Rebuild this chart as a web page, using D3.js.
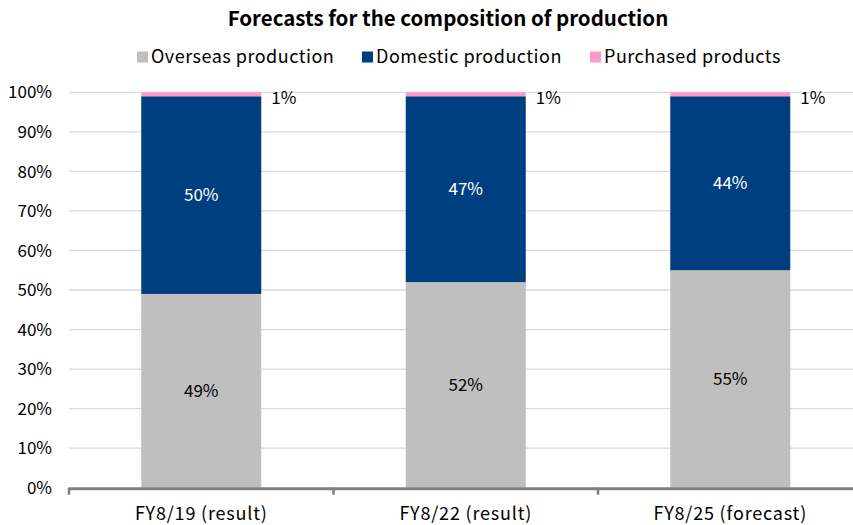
<!DOCTYPE html>
<html><head><meta charset="utf-8">
<script src="https://cdn.jsdelivr.net/npm/d3@7"></script>
<style>
body{margin:0;background:#fff;}
svg{display:block;font-family:"Noto Sans CJK JP","Noto Sans",sans-serif;}
</style></head>
<body><svg id="c" width="853" height="525"></svg>
<script>
const categories = ["FY8/19 (result)", "FY8/22 (result)", "FY8/25 (forecast)"];
const seriesNames = ["Overseas production", "Domestic production", "Purchased products"];
const overseas = [49, 52, 55];
const domestic = [50, 47, 44];
const purchased = [1, 1, 1];
const yTicks = [0,10,20,30,40,50,60,70,80,90,100];
const colors = ["#bfbfbf", "#003f7f", "#ff99cc"];
const labelColors = ["#000", "#fff", "#000"];

const svg = d3.select("#c");
const plotLeft = 69, plotW = 264.5*3, plotTop = 92.3, plotBottom = 487.7;
const x = d3.scaleBand().domain(categories).range([plotLeft, plotLeft+plotW]).paddingInner(0).paddingOuter(0);
const y = d3.scaleLinear().domain([0,100]).range([plotBottom, plotTop]);

const rows = categories.map((c,i)=>({cat:c, "Overseas production":overseas[i], "Domestic production":domestic[i], "Purchased products":purchased[i]}));
const stack = d3.stack().keys(seriesNames)(rows);

// gridlines
svg.append("g").selectAll("line").data(yTicks.filter(d=>d>0)).join("line")
  .attr("x1", plotLeft).attr("x2", 853).attr("y1", d=>y(d)).attr("y2", d=>y(d))
  .attr("stroke", "#d9d9d9").attr("stroke-width", 1.3);

// y labels
svg.append("g").selectAll("text").data(yTicks).join("text")
  .attr("x", 52).attr("y", d=>y(d)).attr("dy","0.36em").attr("text-anchor","end")
  .attr("font-size", 17).attr("fill","#000").text(d=>d+"%");

const barW = 120;
const bx = c => x(c) + x.bandwidth()/2 - barW/2;

stack.forEach((s,si)=>{
  svg.append("g").selectAll("rect").data(s).join("rect")
    .attr("x", d=>bx(d.data.cat)).attr("width", barW)
    .attr("y", d=>y(d[1])).attr("height", d=>y(d[0])-y(d[1]))
    .attr("fill", colors[si]);
});

// labels
stack.forEach((s,si)=>{
  svg.append("g").selectAll("text").data(s).join("text")
    .attr("x", d=> si===2 ? bx(d.data.cat)+barW+10 : x(d.data.cat)+x.bandwidth()/2)
    .attr("y", d=> si===2 ? y(d[1])+6 : y((d[0]+d[1])/2))
    .attr("dy","0.36em")
    .attr("text-anchor", si===2 ? "start" : "middle")
    .attr("font-size", 17).attr("fill", labelColors[si])
    .text(d=>(d[1]-d[0])+"%");
});

// x axis line
svg.append("line").attr("x1", plotLeft).attr("x2", 853).attr("y1", plotBottom+1).attr("y2", plotBottom+1)
  .attr("stroke", "#808080").attr("stroke-width", 3);
svg.append("g").selectAll("line").data(categories).join("line")
  .attr("x1", d=>x(d)).attr("x2", d=>x(d)).attr("y1", plotBottom).attr("y2", plotBottom+7)
  .attr("stroke", "#808080").attr("stroke-width", 2.5);

svg.append("g").selectAll("text").data(categories).join("text")
  .attr("x", d=>x(d)+x.bandwidth()/2).attr("y", 514).attr("dy","0.36em")
  .attr("text-anchor","middle").attr("font-size", 18).attr("letter-spacing", 0.8)
  .attr("fill","#000").text(d=>d);

// title
svg.append("text").attr("x", 448).attr("y", 19).attr("dy","0.36em").attr("text-anchor","middle")
  .attr("font-size", 20.5).attr("font-weight","bold").attr("fill","#000")
  .text("Forecasts for the composition of production");

// legend
const legX = [137, 362, 590];
const leg = svg.append("g").selectAll("g").data(seriesNames).join("g")
  .attr("transform", (d,i)=>`translate(${legX[i]},57)`);
leg.append("rect").attr("x",0).attr("y",-5.5).attr("width",11).attr("height",11).attr("fill",(d,i)=>colors[i]);
leg.append("text").attr("x",14).attr("y",0).attr("dy","0.36em").attr("font-size",18)
  .attr("letter-spacing", 0.5).attr("fill","#000").text(d=>d);
</script></body></html>
